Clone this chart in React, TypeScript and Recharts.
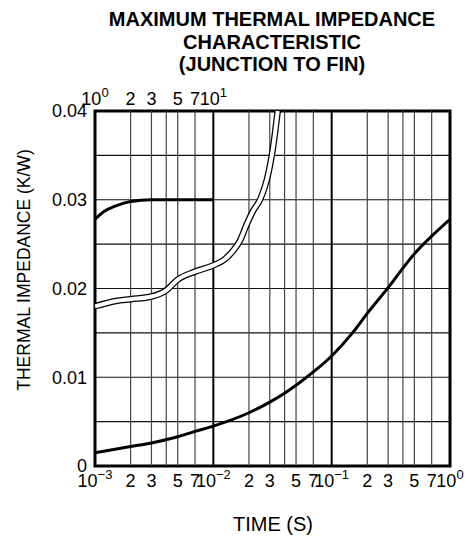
import React from "react";
import {
  LineChart,
  Line,
  XAxis,
  YAxis,
  ReferenceLine,
  ReferenceArea,
} from "recharts";

const FONT = '"Liberation Sans", Arial, Helvetica, sans-serif';

// bottom axis: time in seconds (log)
const bottomTicks = [
  0.001, 0.002, 0.003, 0.005, 0.007, 0.01, 0.02, 0.03, 0.05, 0.07, 0.1, 0.2,
  0.3, 0.5, 0.7, 1,
];
const gridX = [
  0.001, 0.002, 0.003, 0.004, 0.005, 0.007, 0.01, 0.02, 0.03, 0.04, 0.05, 0.07,
  0.1, 0.2, 0.3, 0.4, 0.5, 0.7, 1,
];
const topTicks = [1, 2, 3, 5, 7, 10];
const yTicks = [0, 0.01, 0.02, 0.03, 0.04];
const gridY = [0.005, 0.01, 0.015, 0.02, 0.025, 0.03, 0.035];

// lower curve (bottom axis)
const lowT = [
  0.001, 0.002, 0.003, 0.005, 0.007, 0.01, 0.02, 0.03, 0.04, 0.05, 0.07, 0.1,
  0.15, 0.2, 0.3, 0.4, 0.5, 0.7, 1,
];
const lowZ = [
  0.0015, 0.0022, 0.0026, 0.0033, 0.0039, 0.0045, 0.006, 0.0072, 0.0082,
  0.0091, 0.0106, 0.0124, 0.015, 0.0172, 0.0201, 0.0223, 0.0239, 0.0259,
  0.0278,
];

// double-line curve (bottom axis)
const dblT = [
  0.001, 0.0015, 0.002, 0.003, 0.004, 0.005, 0.007, 0.01, 0.0125, 0.0148,
  0.0168, 0.0191, 0.0218, 0.0248, 0.0273, 0.0292, 0.0311, 0.0332, 0.035,
];
const dblZ = [
  0.018, 0.0186, 0.0188, 0.0191, 0.0198, 0.021, 0.0219, 0.0226, 0.0233,
  0.0243, 0.0254, 0.0272, 0.0288, 0.03, 0.0315, 0.033, 0.0349, 0.0375, 0.04,
];

// upper curve (top axis, 10^0 .. 10^1)
const topT = [1, 1.2, 1.5, 2, 3, 5, 7, 10];
const topZ = [0.0278, 0.0287, 0.0293, 0.0298, 0.03, 0.03, 0.03, 0.03];

const lowData = lowT.map((t, i) => ({ t, z: lowZ[i] }));
const dblData = dblT.map((t, i) => ({ t, z: dblZ[i] }));
const topData = topT.map((t, i) => ({ t, z: topZ[i] }));

const isDecade = (v: number) => {
  const e = Math.round(Math.log10(v));
  return Math.abs(v / Math.pow(10, e) - 1) < 1e-6;
};

const makeTick = (dy: number) => (props: any) => {
  const { x, y, payload } = props;
  const v = payload.value as number;
  const e = Math.round(Math.log10(v));
  if (isDecade(v)) {
    const sup = e < 0 ? "\u2212" + Math.abs(e) : String(e);
    return (
      <text x={x} y={y + dy} textAnchor="middle" fontSize={18} fontFamily={FONT} fill="#000">
        <tspan>10</tspan>
        <tspan dy={-8} fontSize={13}>{sup}</tspan>
      </text>
    );
  }
  const m = Math.round(v / Math.pow(10, Math.floor(Math.log10(v) + 1e-9)));
  return (
    <text x={x} y={y + dy} textAnchor="middle" fontSize={18} fontFamily={FONT} fill="#000">
      {m}
    </text>
  );
};

export default function App() {
  return (
    <div style={{ position: "absolute", left: 0, top: 0, width: 466, height: 536, background: "#fff", fontFamily: FONT }}>
      <div style={{ position: "absolute", left: 72, width: 400, top: 8, textAlign: "center", fontWeight: "bold", fontSize: 20, lineHeight: "22.5px", color: "#000" }}>
        MAXIMUM THERMAL IMPEDANCE
        <br />
        CHARACTERISTIC
        <br />
        (JUNCTION TO FIN)
      </div>
      <div style={{ position: "absolute", left: 173, width: 200, top: 513, textAlign: "center", fontSize: 20, color: "#000" }}>
        TIME (S)
      </div>
      <div style={{ position: "absolute", left: 24, top: 270, width: 0, height: 0 }}>
        <div style={{ position: "absolute", left: -150, top: -11, width: 300, textAlign: "center", fontSize: 17.5, lineHeight: "22px", transform: "rotate(-90deg)", whiteSpace: "nowrap", color: "#000" }}>
          THERMAL IMPEDANCE (K/W)
        </div>
      </div>
      <div style={{ position: "absolute", left: 0, top: 0 }}>
        <LineChart width={466} height={536} margin={{ top: 81, right: 16, bottom: 40, left: 0 }}>
          <XAxis
            xAxisId="bottom"
            dataKey="t"
            type="number"
            scale="log"
            domain={[0.001, 1]}
            allowDataOverflow
            ticks={bottomTicks}
            interval={0}
            axisLine={false}
            tickLine={false}
            tickSize={0}
            tickMargin={0}
            height={30}
            tick={makeTick(21)}
          />
          <XAxis
            xAxisId="top"
            orientation="top"
            dataKey="t"
            type="number"
            scale="log"
            domain={[1, 1000]}
            allowDataOverflow
            ticks={topTicks}
            interval={0}
            axisLine={false}
            tickLine={false}
            tickSize={0}
            tickMargin={0}
            height={30}
            tick={makeTick(-6)}
          />
          <YAxis
            type="number"
            domain={[0, 0.04]}
            ticks={yTicks}
            interval={0}
            width={95}
            axisLine={false}
            tickLine={false}
            tickSize={0}
            tickMargin={8}
            tickFormatter={(v: number) => (v === 0 ? "0" : v.toFixed(2))}
            tick={{ fontSize: 18, fill: "#000", fontFamily: FONT }}
          />
          {gridY.map((v) => (
            <ReferenceLine key={"gy" + v} xAxisId="bottom" y={v} stroke="#111" strokeWidth={1.2} />
          ))}
          {gridX.map((v) => (
            <ReferenceLine
              key={"gx" + v}
              xAxisId="bottom"
              x={v}
              stroke={isDecade(v) ? "#000" : "#444"}
              strokeWidth={isDecade(v) ? 2 : 1.2}
            />
          ))}
          <Line
            xAxisId="bottom"
            data={lowData}
            dataKey="z"
            type="monotone"
            stroke="#000"
            strokeWidth={3}
            dot={false}
            isAnimationActive={false}
          />
          <Line
            xAxisId="top"
            data={topData}
            dataKey="z"
            type="monotone"
            stroke="#000"
            strokeWidth={3}
            dot={false}
            isAnimationActive={false}
          />
          <Line
            xAxisId="bottom"
            data={dblData}
            dataKey="z"
            type="monotone"
            stroke="#000"
            strokeWidth={6.5}
            dot={false}
            isAnimationActive={false}
          />
          <Line
            xAxisId="bottom"
            data={dblData}
            dataKey="z"
            type="monotone"
            stroke="#fff"
            strokeWidth={4}
            dot={false}
            isAnimationActive={false}
          />
          <ReferenceArea
            xAxisId="bottom"
            x1={0.001}
            x2={1}
            y1={0}
            y2={0.04}
            fill="none"
            fillOpacity={0}
            stroke="#000"
            strokeWidth={3}
            strokeOpacity={1}
          />
        </LineChart>
      </div>
    </div>
  );
}
